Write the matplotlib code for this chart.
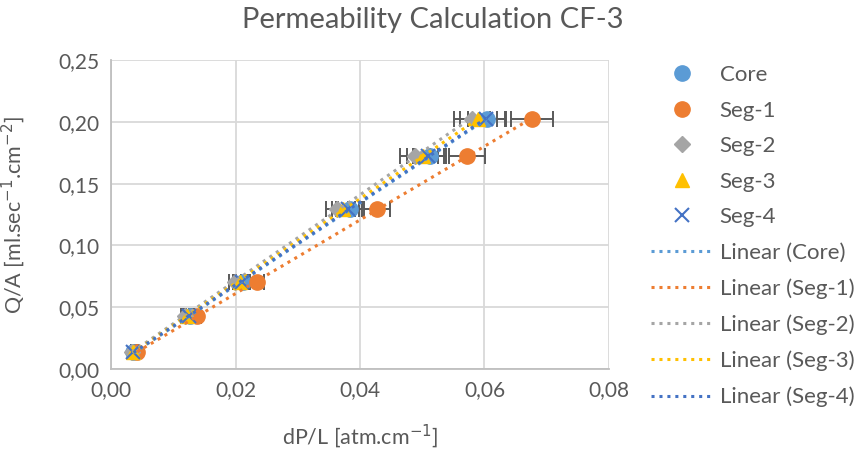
import numpy as np
import matplotlib.pyplot as plt
from matplotlib.ticker import FuncFormatter

plt.rcParams['font.family'] = ['Lato', 'DejaVu Sans']

# Flow per area (same for all series)
qa = [0.0138, 0.0429, 0.0704, 0.1294, 0.1723, 0.2023]

# Pressure gradient per series
dp_core = [0.0036, 0.0127, 0.0212, 0.0384, 0.0512, 0.0604]
dp_seg1 = [0.0042, 0.0138, 0.0234, 0.0427, 0.0572, 0.0676]
dp_seg2 = [0.0034, 0.0119, 0.0199, 0.0363, 0.0488, 0.0580]
dp_seg3 = [0.0035, 0.0122, 0.0207, 0.0373, 0.0501, 0.0590]
dp_seg4 = [0.0036, 0.0125, 0.0210, 0.0380, 0.0510, 0.0603]

names = ['Core', 'Seg-1', 'Seg-2', 'Seg-3', 'Seg-4']
colors = ['#5B9BD5', '#ED7D31', '#A5A5A5', '#FFC000', '#4472C4']
markers = ['o', 'o', 'D', '^', 'x']
err_frac = 0.05   # horizontal error bars, 5 %

fig = plt.figure(figsize=(8.56, 4.55), dpi=100)
ax = fig.add_axes([0.1297, 0.189, 0.5817, 0.679])

series = [dp_core, dp_seg1, dp_seg2, dp_seg3, dp_seg4]
sizes = [11, 11, 8.5, 10, 10]
pt_handles = []
for x, name, c, m, s in zip(series, names, colors, markers, sizes):
    x = np.array(x)
    ax.errorbar(x, qa, xerr=x * err_frac, fmt='none', ecolor='#595959',
                elinewidth=1.4, capsize=6, capthick=1.4, zorder=2)
    if m == 'x':
        h, = ax.plot(x, qa, ls='none', marker=m, ms=s, mew=1.5, color=c, zorder=3)
    else:
        h, = ax.plot(x, qa, ls='none', marker=m, ms=s, mec=c, color=c, zorder=3)
    pt_handles.append(h)

ln_handles = []
for x, name, c in zip(series, names, colors):
    x = np.array(x)
    k, b = np.polyfit(x, qa, 1)
    xs = np.array([x.min(), x.max()])
    h, = ax.plot(xs, k * xs + b, ls=(0, (1, 1.6)), lw=2.2, color=c, zorder=4)
    ln_handles.append(h)

ax.set_xlim(0, 0.08)
ax.set_ylim(0, 0.25)
ax.set_xticks(np.arange(0, 0.081, 0.02))
ax.set_yticks(np.arange(0, 0.251, 0.05))
ax.xaxis.set_major_formatter(FuncFormatter(lambda v, p: f'{v:.2f}'.replace('.', ',')))
ax.yaxis.set_major_formatter(FuncFormatter(lambda v, p: f'{v:.2f}'.replace('.', ',')))
ax.grid(True, color='#D9D9D9', lw=1.3)
ax.set_axisbelow(True)
ax.tick_params(length=0, labelsize=15, colors='#595959', pad=8)
for side in ['top', 'right']:
    ax.spines[side].set_visible(False)
for side in ['left', 'bottom']:
    ax.spines[side].set_color('#BFBFBF')
    ax.spines[side].set_linewidth(1.3)

# chart title is centred on the whole figure, as in Excel
fig.text(0.506, 0.956, 'Permeability Calculation CF-3', fontsize=21,
         color='#595959', ha='center', va='center')
ax.set_xlabel(r'dP/L [atm.cm$^{-1}$]', fontsize=15.5, color='#595959', labelpad=16)
ax.set_ylabel(r'Q/A [ml.sec$^{-1}$.cm$^{-2}$]', fontsize=15.5, color='#595959', labelpad=23)

labels = names + [f'Linear ({n})' for n in names]
fig.legend(pt_handles + ln_handles, labels, loc='upper left',
           bbox_to_anchor=(0.737, 0.901), frameon=False, fontsize=16,
           labelcolor='#595959', handlelength=2.8, labelspacing=0.70,
           handletextpad=0.3)

fig.savefig('out.png', dpi=100)
